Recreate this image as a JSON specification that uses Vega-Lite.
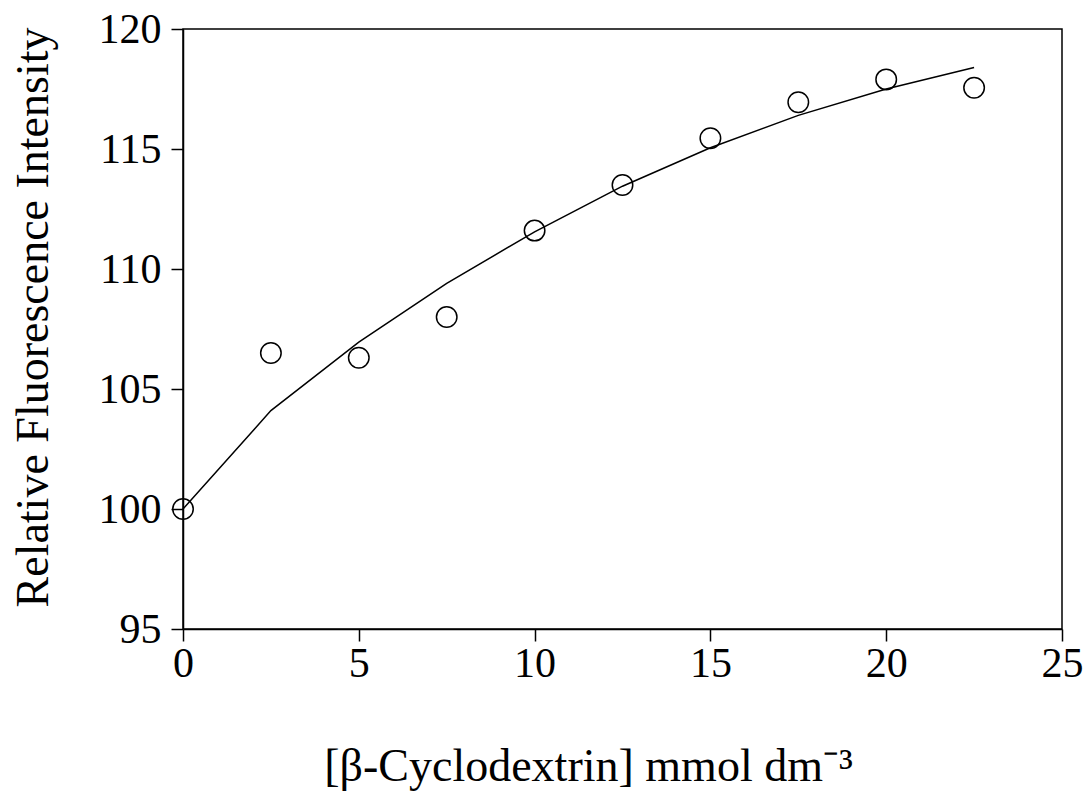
{
  "$schema": "https://vega.github.io/schema/vega-lite/v6.json",
  "width": 879,
  "height": 600,
  "autosize": "none",
  "padding": {"left": 183, "top": 29, "right": 24, "bottom": 168},
  "background": "white",
  "config": {
    "font": "Liberation Serif",
    "view": {"stroke": "black", "strokeWidth": 1.5},
    "axis": {
      "grid": false,
      "domainColor": "black",
      "domainWidth": 1.5,
      "tickColor": "black",
      "tickWidth": 1.5,
      "tickSize": 12,
      "labelFont": "Liberation Serif",
      "labelFontSize": 42,
      "labelColor": "black",
      "titleFont": "Liberation Serif",
      "titleFontSize": 46,
      "titleFontWeight": "normal",
      "titleColor": "black"
    }
  },
  "datasets": {
    "measured": [
      {"conc": 0, "intensity": 100.0},
      {"conc": 2.5, "intensity": 106.5},
      {"conc": 5, "intensity": 106.3},
      {"conc": 7.5, "intensity": 108.0},
      {"conc": 10, "intensity": 111.6},
      {"conc": 12.5, "intensity": 113.5},
      {"conc": 15, "intensity": 115.45},
      {"conc": 17.5, "intensity": 116.95},
      {"conc": 20, "intensity": 117.9},
      {"conc": 22.5, "intensity": 117.55}
    ],
    "fit": [
      {"conc": 0, "intensity": 100.0},
      {"conc": 2.5, "intensity": 104.1},
      {"conc": 5, "intensity": 106.95},
      {"conc": 7.5, "intensity": 109.4},
      {"conc": 10, "intensity": 111.55},
      {"conc": 12.5, "intensity": 113.45},
      {"conc": 15, "intensity": 115.05},
      {"conc": 17.5, "intensity": 116.4},
      {"conc": 20, "intensity": 117.5},
      {"conc": 22.5, "intensity": 118.4}
    ]
  },
  "encoding": {
    "x": {
      "field": "conc",
      "type": "quantitative",
      "scale": {"domain": [0, 25], "nice": false, "zero": false},
      "axis": {
        "values": [0, 5, 10, 15, 20, 25],
        "labelPadding": 2,
        "labelFlush": false,
        "title": "[β-Cyclodextrin] mmol dm⁻³",
        "titleX": 405,
        "titleY": 151,
        "titleBaseline": "alphabetic",
        "titleAlign": "center"
      }
    },
    "y": {
      "field": "intensity",
      "type": "quantitative",
      "scale": {"domain": [95, 120], "nice": false, "zero": false},
      "axis": {
        "values": [95, 100, 105, 110, 115, 120],
        "labelPadding": 10,
        "labelFlush": false,
        "title": "Relative Fluorescence Intensity",
        "titleX": -150,
        "titleY": 288,
        "titleBaseline": "middle",
        "titleAlign": "center",
        "titleAngle": -90
      }
    }
  },
  "layer": [
    {
      "data": {"name": "fit"},
      "mark": {"type": "line", "color": "black", "strokeWidth": 1.5}
    },
    {
      "data": {"name": "measured"},
      "mark": {"type": "point", "shape": "circle", "filled": false, "color": "black", "strokeWidth": 1.5, "size": 420, "opacity": 1}
    }
  ]
}
